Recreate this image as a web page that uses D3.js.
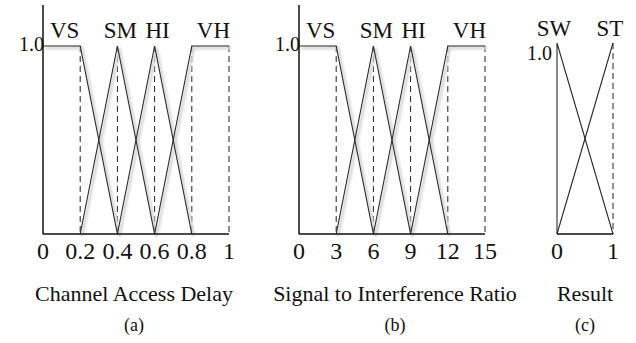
<!DOCTYPE html>
<html>
<head>
  <meta charset="UTF-8">
  <style>
    body { margin: 0; background: #fff; }
    text { font-family: "Liberation Serif", "Times New Roman", serif; fill: #111; }
  </style>
</head>
<body>
<svg></svg>
<script src="https://d3js.org/d3.v7.min.js"></script>
<script>

// data
const delayTicks = [0, 0.2, 0.4, 0.6, 0.8, 1];
const delaySets = ["VS", "SM", "HI", "VH"];
const delayShapes = [
  [[0, 1], [0.2, 1], [0.4, 0]],
  [[0.2, 0], [0.4, 1], [0.6, 0]],
  [[0.4, 0], [0.6, 1], [0.8, 0]],
  [[0.6, 0], [0.8, 1], [1, 1]]
];

const sirTicks = [0, 3, 6, 9, 12, 15];
const sirSets = ["VS", "SM", "HI", "VH"];
const sirShapes = [
  [[0, 1], [3, 1], [6, 0]],
  [[3, 0], [6, 1], [9, 0]],
  [[6, 0], [9, 1], [12, 0]],
  [[9, 0], [12, 1], [15, 1]]
];

const resultTicks = [0, 1];
const resultSets = ["SW", "ST"];
const resultShapes = [
  [[0, 0], [0, 1], [1, 0]],
  [[0, 0], [1, 1]]
];

const width = 636, height = 343;
let svg = d3.select("svg").attr("width", width).attr("height", height);

let defs = svg.append("defs");
defs.append("filter").attr("id", "blur")
  .append("feGaussianBlur").attr("stdDeviation", 0.8);

function panel(opt) {
  let x = d3.scaleLinear().domain(opt.domain).range(opt.xr);
  let y = d3.scaleLinear().domain([0, 1]).range(opt.yr);
  let g = svg.append("g");
  let line = d3.line().x(d => x(d[0])).y(d => y(d[1]));

  // dashed guides at the peaks
  g.selectAll(".guide").data(opt.dashes).enter().append("line")
    .attr("x1", d => x(d)).attr("x2", d => x(d))
    .attr("y1", y(1)).attr("y2", y(0))
    .attr("stroke", "#222").attr("stroke-width", 1)
    .attr("stroke-dasharray", "6,4");

  // soft grey shadow under the membership lines
  if (opt.shadow) {
    g.selectAll(".shadow").data(opt.shapes).enter().append("path")
      .attr("d", line)
      .attr("fill", "none").attr("stroke", "#d8d8d8").attr("stroke-width", 3)
      .attr("transform", "translate(2,2)")
      .attr("filter", "url(#blur)");
  }

  g.selectAll(".mf").data(opt.shapes).enter().append("path")
    .attr("d", line)
    .attr("fill", "none").attr("stroke", "#2a2a2a").attr("stroke-width", 1.1);

  // axes
  if (opt.yaxis) {
    g.append("line").attr("x1", x(opt.domain[0])).attr("x2", x(opt.domain[0]))
      .attr("y1", opt.axisTop).attr("y2", y(0))
      .attr("stroke", "#111").attr("stroke-width", 1.5);
  }
  g.append("line").attr("x1", x(opt.domain[0])).attr("x2", x(opt.domain[1]))
    .attr("y1", y(0)).attr("y2", y(0))
    .attr("stroke", "#111").attr("stroke-width", 1.5);

  g.append("text").attr("x", x(opt.domain[0]) + opt.oneDx).attr("y", y(1) + opt.oneDy)
    .attr("text-anchor", "end").style("font-size", "20px").text("1.0");

  g.selectAll(".tick").data(opt.ticks).enter().append("text")
    .attr("x", d => x(d)).attr("y", y(0) + 25)
    .attr("text-anchor", "middle").style("font-size", "24px")
    .text(d => d);

  // set names above the peaks
  g.selectAll(".set").data(opt.shapes).enter().append("text")
    .attr("x", d => {
      let top = d.filter(p => p[1] == 1);
      return x(d3.mean(top, p => p[0])) + opt.setDx;
    })
    .attr("y", opt.setY)
    .attr("text-anchor", "middle").style("font-size", "23px")
    .text((d, i) => opt.sets[i]);

  let mid = (opt.xr[0] + opt.xr[1]) / 2;
  g.append("text").attr("x", mid + opt.titleDx).attr("y", 301)
    .attr("text-anchor", "middle").style("font-size", "22px").text(opt.title);
  g.append("text").attr("x", mid + opt.titleDx).attr("y", 331)
    .attr("text-anchor", "middle").style("font-size", "18px").text(opt.tag);
}

panel({
  domain: [0, 1], xr: [43, 229], yr: [234, 46], axisTop: 5,
  ticks: delayTicks, sets: delaySets, shapes: delayShapes,
  dashes: [0.2, 0.4, 0.6, 0.8, 1], yaxis: true, shadow: true,
  oneDx: 1, oneDy: 5, setDx: 3, setY: 38,
  title: "Channel Access Delay", tag: "(a)", titleDx: -2
});

panel({
  domain: [0, 15], xr: [299, 485], yr: [234, 46], axisTop: 5,
  ticks: sirTicks, sets: sirSets, shapes: sirShapes,
  dashes: [3, 6, 9, 12, 15], yaxis: true, shadow: true,
  oneDx: 1, oneDy: 5, setDx: 3, setY: 38,
  title: "Signal to Interference Ratio", tag: "(b)", titleDx: 3
});

panel({
  domain: [0, 1], xr: [557, 613], yr: [234, 43], axisTop: 43,
  ticks: resultTicks, sets: resultSets, shapes: resultShapes,
  dashes: [1], yaxis: false, shadow: false,
  oneDx: -5, oneDy: 17, setDx: -3, setY: 36,
  title: "Result", tag: "(c)", titleDx: 0
});

</script>
</body>
</html>
